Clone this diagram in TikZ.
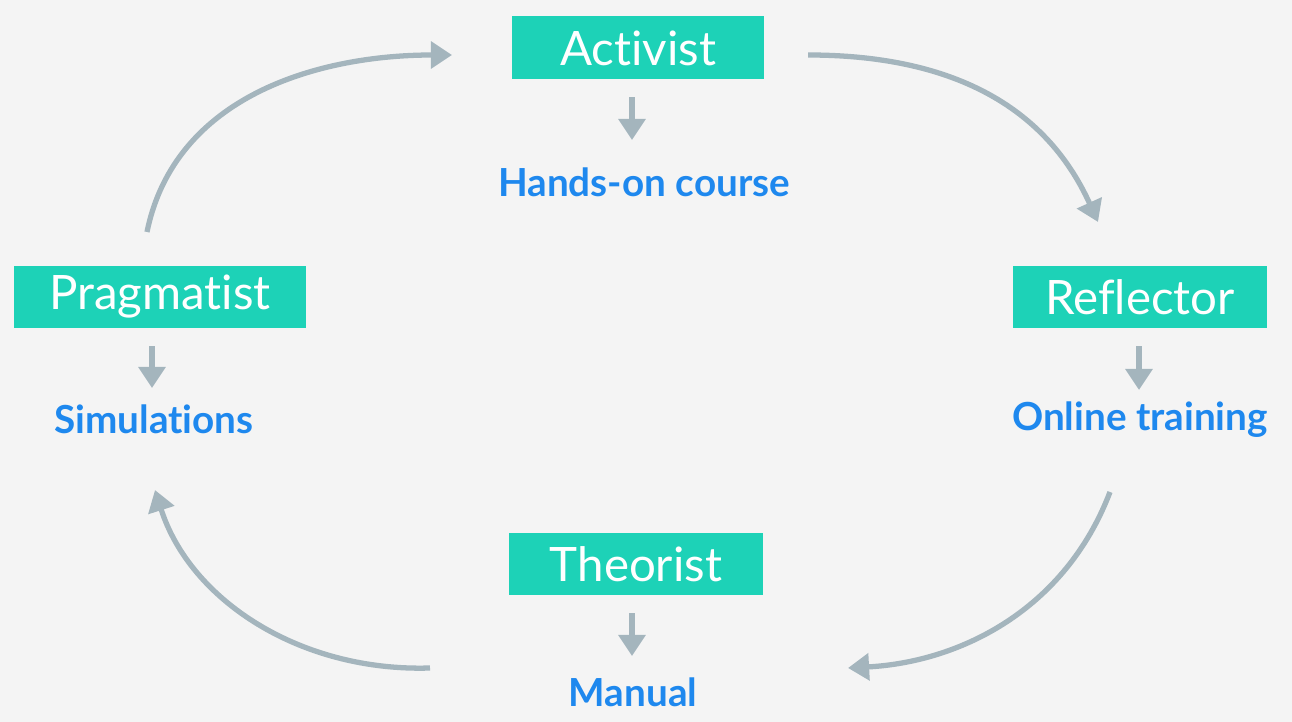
\documentclass[tikz,border=0pt]{standalone}
\usepackage{fontspec}
\setmainfont{Lato}[Ligatures={NoCommon,NoRequired,NoContextual}]
\usepackage{xcolor}
\usetikzlibrary{positioning, arrows.meta}

\definecolor{bgcol}{HTML}{F4F4F4}
\definecolor{boxcol}{HTML}{1DD2B7}
\definecolor{arrcol}{HTML}{A4B5BD}
\definecolor{txtcol}{HTML}{1E88EE}

\begin{document}
\begin{tikzpicture}[x=0.02cm, y=-0.02cm, >={Triangle[length=12pt, width=15pt]},
    stylebox/.style={fill=boxcol, text=white, minimum height=1.26cm, inner sep=0pt, font=\fontsize{27}{30}\selectfont},
    medium/.style={text=txtcol, font=\fontsize{22}{25}\selectfont\bfseries},
    flow/.style={->, draw=arrcol, line width=3pt},
    down/.style={->, draw=arrcol, line width=3pt, shorten <=10pt}]

    % fondo y margenes
    \fill[bgcol] (0,0) rectangle (1292,722);
    \useasboundingbox (0,0) rectangle (1292,722);

    % Estilos de aprendizaje
    \node[stylebox, minimum width=5.06cm] (Act) at (638,48) {Activist};
    \node[stylebox, minimum width=5.08cm] (Ref) at (1140,297) {Reflector};
    \node[stylebox, minimum width=5.08cm] (The) at (636,564) {Theorist};
    \node[stylebox, minimum width=5.86cm] (Pra) at (160,297) {Pragmatist};

    % Formato de formacion para cada estilo
    \node[medium] (Hands) at (644,182) {Hands-on course};
    \node[medium] (Online) at (1140,420) {Online training};
    \node[medium] (Manual) at (633,692) {Manual};
    \node[medium] (Simul) at (154,419) {Simulations};

    % flechas cortas hacia abajo
    \draw[down] (Act.south -| 632,0) -- (632,140);
    \draw[down] (Ref.south -| 1139,0) -- (1139,390);
    \draw[down] (The.south -| 632,0) -- (632,656);
    \draw[down] (Pra.south -| 152,0) -- (152,388);

    % extremos de las flechas del ciclo
    \coordinate (p-out) at (147,232);
    \coordinate (a-in) at (452,55);
    \coordinate (a-out) at (808,55);
    \coordinate (r-in) at (1098,222);
    \coordinate (r-out) at (1110,492);
    \coordinate (t-in) at (848,668);
    \coordinate (t-out) at (430,668);
    \coordinate (p-in) at (155,490);

    % ciclo
    \draw[flow] (p-out) .. controls (175,95) and (320,55) .. (a-in);
    \draw[flow] (a-out) .. controls (950,55) and (1045,105) .. (r-in);
    \draw[flow] (r-out) .. controls (1065,610) and (960,662) .. (t-in);
    \draw[flow] (t-out) .. controls (300,672) and (190,600) .. (p-in);
\end{tikzpicture}
\end{document}
